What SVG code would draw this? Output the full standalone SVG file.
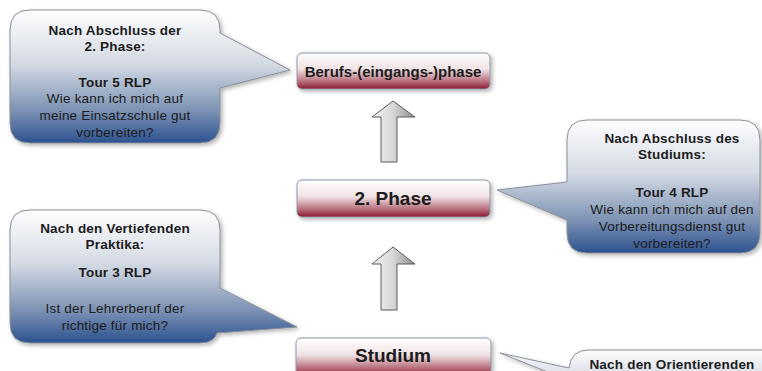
<svg xmlns="http://www.w3.org/2000/svg" width="762" height="371" viewBox="0 0 762 371">
<defs>
<linearGradient id="gCall" x1="0" y1="0" x2="0" y2="1">
<stop offset="0" stop-color="#fdfdfe"/>
<stop offset="0.4" stop-color="#d5dbe4"/>
<stop offset="0.75" stop-color="#7d93b4"/>
<stop offset="1" stop-color="#2c5290"/>
</linearGradient>
<linearGradient id="gBox" x1="0" y1="0" x2="0" y2="1">
<stop offset="0" stop-color="#ffffff"/>
<stop offset="0.45" stop-color="#efe2e4"/>
<stop offset="0.8" stop-color="#b56a78"/>
<stop offset="1" stop-color="#8a1830"/>
</linearGradient>
<linearGradient id="gArrow" x1="0" y1="0" x2="1" y2="0">
<stop offset="0" stop-color="#f4f4f4"/>
<stop offset="0.5" stop-color="#d6d6d6"/>
<stop offset="1" stop-color="#8c8c8c"/>
</linearGradient>
<filter id="sh" x="-10%" y="-10%" width="130%" height="130%">
<feDropShadow dx="2" dy="2" stdDeviation="2" flood-color="#000" flood-opacity="0.3"/>
</filter>
</defs>
<style>
.call{fill:url(#gCall);stroke:#8a8f98;stroke-width:1;filter:url(#sh)}
.box{fill:url(#gBox);stroke:#8c97a8;stroke-width:1;filter:url(#sh)}
.arr{fill:url(#gArrow);stroke:#5a5a5a;stroke-width:1}
text{font-family:"Liberation Sans",Arial,sans-serif;fill:#1c1c1c;text-anchor:middle}
.ct{font-size:13.5px;letter-spacing:0.2px}
.b{font-weight:bold}
.bt{font-size:15px;font-weight:bold}
.bt2{font-size:19px;font-weight:bold}
</style>

<g id="callout-tour5">
<path class="call" d="M30,10 H200 Q220,10 220,30 V33 L290,70 L220,88 V123 Q220,143 200,143 H30 Q10,143 10,123 V30 Q10,10 30,10 Z"/>
<text class="ct b" x="115" y="35">Nach Abschluss der</text>
<text class="ct b" x="115" y="51">2. Phase:</text>
<text class="ct b" x="115" y="87">Tour 5 RLP</text>
<text class="ct" x="115" y="103">Wie kann ich mich auf</text>
<text class="ct" x="115" y="120">meine Einsatzschule gut</text>
<text class="ct" x="115" y="137">vorbereiten?</text>
</g>

<g id="callout-tour4">
<path class="call" d="M587,120 H740 Q760,120 760,140 V233 Q760,253 740,253 H587 Q567,253 567,233 V220 L497,190 L567,182 V140 Q567,120 587,120 Z"/>
<text class="ct b" x="672" y="143">Nach Abschluss des</text>
<text class="ct b" x="672" y="159">Studiums:</text>
<text class="ct b" x="672" y="197">Tour 4 RLP</text>
<text class="ct" x="672" y="214">Wie kann ich mich auf den</text>
<text class="ct" x="672" y="231">Vorbereitungsdienst gut</text>
<text class="ct" x="672" y="248">vorbereiten?</text>
</g>

<g id="callout-tour3">
<path class="call" d="M30,210 H200 Q220,210 220,230 V288 L297,327 L217,333 Q214,343 200,343 H30 Q10,343 10,323 V230 Q10,210 30,210 Z"/>
<text class="ct b" x="115" y="233">Nach den Vertiefenden</text>
<text class="ct b" x="115" y="249">Praktika:</text>
<text class="ct b" x="115" y="277">Tour 3 RLP</text>
<text class="ct" x="115" y="313">Ist der Lehrerberuf der</text>
<text class="ct" x="115" y="330">richtige für mich?</text>
</g>

<g id="callout-orient">
<path class="call" d="M588,350 H790 V420 H568 V380 L500,353 L569,368 Q571,350 588,350 Z"/>
<text class="ct b" x="672" y="368.5">Nach den Orientierenden</text>
</g>

<g id="node-beruf">
<rect class="box" x="297" y="53" width="193" height="36" rx="5"/>
<text class="bt" x="393" y="77">Berufs-(eingangs-)phase</text>
</g>

<g id="node-phase2">
<rect class="box" x="297" y="180" width="193" height="37" rx="5"/>
<text class="bt2" x="393" y="205">2. Phase</text>
</g>

<g id="node-studium">
<rect class="box" x="296" y="338" width="195" height="38" rx="5"/>
<text class="bt2" x="393" y="362">Studium</text>
</g>

<g id="connectors">
<path class="arr" d="M393,101 L415,117 L397,117 L397,162 L381,162 L381,117 L372,117 Z"/>
<path class="arr" d="M393,247 L415,264 L397,264 L397,310 L381,310 L381,264 L372,264 Z"/>
</g>
</svg>
